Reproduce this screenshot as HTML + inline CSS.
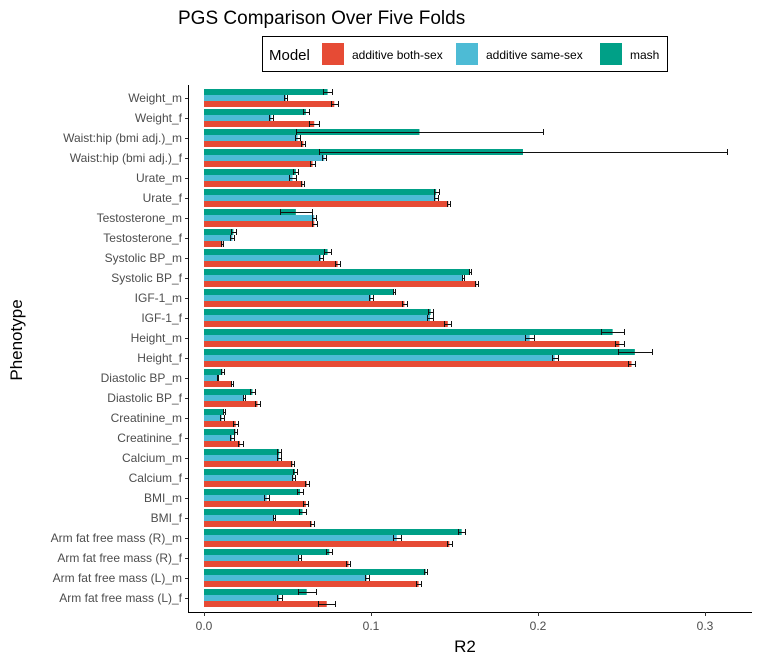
<!DOCTYPE html>
<html><head><meta charset="utf-8"><style>
body{margin:0;background:#fff;font-family:"Liberation Sans",Arial,sans-serif}
svg text{font-family:"Liberation Sans",Arial,sans-serif}
</style></head><body>
<svg id="chart" width="760" height="660" xmlns="http://www.w3.org/2000/svg">
<text x="178" y="24" font-size="19" fill="#000">PGS Comparison Over Five Folds</text>
<g>
<rect x="262.5" y="36.5" width="405" height="35" fill="#fff" stroke="#000" stroke-width="1"/>
<text x="269" y="60" font-size="15" fill="#000">Model</text>
<g><rect x="322" y="43" width="22" height="22" fill="#E64B35"/><text x="352" y="59" font-size="12" fill="#000">additive both-sex</text></g>
<g><rect x="456" y="43" width="22" height="22" fill="#4DBBD5"/><text x="486" y="59" font-size="12" fill="#000">additive same-sex</text></g>
<g><rect x="600" y="43" width="22" height="22" fill="#00A087"/><text x="630" y="59" font-size="12" fill="#000">mash</text></g>
</g>
<g id="plot"></g>
<text x="465" y="652" font-size="17" text-anchor="middle" fill="#000">R2</text>
<text transform="translate(22,340) rotate(-90)" font-size="17" text-anchor="middle" fill="#000">Phenotype</text>
</svg>
<script>
const categories=["Weight_m","Weight_f","Waist:hip (bmi adj.)_m","Waist:hip (bmi adj.)_f","Urate_m","Urate_f","Testosterone_m","Testosterone_f","Systolic BP_m","Systolic BP_f","IGF-1_m","IGF-1_f","Height_m","Height_f","Diastolic BP_m","Diastolic BP_f","Creatinine_m","Creatinine_f","Calcium_m","Calcium_f","BMI_m","BMI_f","Arm fat free mass (R)_m","Arm fat free mass (R)_f","Arm fat free mass (L)_m","Arm fat free mass (L)_f"];
const mashVals=[0.074,0.061,0.129,0.191,0.055,0.139,0.055,0.0176,0.074,0.1593,0.1138,0.1357,0.2447,0.258,0.011,0.029,0.012,0.0188,0.045,0.0545,0.0575,0.059,0.1543,0.075,0.1327,0.0615];
const mashErr=[0.0027,0.002,0.074,0.122,0.0015,0.0015,0.0095,0.0015,0.002,0.0008,0.0008,0.0015,0.007,0.01,0.001,0.0015,0.0008,0.0008,0.001,0.0013,0.0018,0.002,0.0022,0.0018,0.001,0.0055];
const sameVals=[0.049,0.0403,0.056,0.072,0.053,0.1387,0.066,0.017,0.070,0.155,0.100,0.1353,0.195,0.210,0.008,0.024,0.0106,0.0168,0.045,0.0535,0.0375,0.042,0.1154,0.057,0.0974,0.045];
const sameErr=[0.0008,0.0013,0.0013,0.0012,0.002,0.0012,0.0013,0.0012,0.0012,0.0008,0.0012,0.002,0.0025,0.0018,0.0005,0.0008,0.0012,0.0012,0.0012,0.0008,0.0015,0.0006,0.0025,0.0008,0.0012,0.0015];
const bothVals=[0.078,0.066,0.0595,0.065,0.059,0.1463,0.066,0.011,0.080,0.163,0.120,0.146,0.2487,0.256,0.0166,0.032,0.019,0.0216,0.053,0.0615,0.061,0.0645,0.1469,0.0865,0.1285,0.0735];
const bothErr=[0.0022,0.003,0.0012,0.0015,0.0008,0.0008,0.0015,0.0006,0.0015,0.0008,0.0015,0.002,0.0025,0.002,0.0005,0.0015,0.0015,0.0015,0.001,0.0012,0.0015,0.0012,0.0015,0.0012,0.0015,0.005];
const xTicks=[0,0.1,0.2,0.3];
const xTickLabels=["0.0","0.1","0.2","0.3"];

const NS="http://www.w3.org/2000/svg";
const g=document.getElementById('plot');
const X0=204, PX=1670, Y0=98, STEP=20, BH=6;
const xs=v=>X0+v*PX;
const yc=i=>Y0+i*STEP;
const px=v=>Math.round(v)+0.5;
function mk(t,a){const e=document.createElementNS(NS,t);for(const k in a)e.setAttribute(k,a[k]);g.appendChild(e);return e;}
const series=[{v:mashVals,e:mashErr,c:"#00A087",o:-1,n:"mash"},{v:sameVals,e:sameErr,c:"#4DBBD5",o:0,n:"same-sex"},{v:bothVals,e:bothErr,c:"#E64B35",o:1,n:"both-sex"}];
categories.forEach((cat,i)=>{
  const lab=mk('text',{x:182,y:yc(i)+4,'font-size':12,'text-anchor':'end',fill:'#4d4d4d'});
  lab.textContent=cat;
  
  
  const t=mk('line',{x1:185,x2:188,y1:yc(i)+0.5,y2:yc(i)+0.5,stroke:'#333'});
  
  
  series.forEach(s=>{
    const top=yc(i)+s.o*BH-BH/2;
    const r=mk('rect',{x:X0,y:top,width:Math.max(0,xs(s.v[i])-X0),height:BH,fill:s.c});
    
    
    const lo=px(xs(s.v[i]-s.e[i])),hi=px(xs(s.v[i]+s.e[i])),cy=top+BH/2+0.5;
    const eb=mk('path',{d:`M${lo},${cy}H${hi}M${lo},${top}V${top+BH}M${hi},${top}V${top+BH}`,stroke:'#111',fill:'none','stroke-width':1});
    
    
  });
});
const ax=mk('path',{d:'M188.5,85V612.5H752',stroke:'#000',fill:'none','stroke-width':1});


xTicks.forEach((v,k)=>{
  const t=mk('line',{x1:px(xs(v)),x2:px(xs(v)),y1:612,y2:616,stroke:'#333'});
  
  
  const l=mk('text',{x:xs(v),y:630,'font-size':12,'text-anchor':'middle',fill:'#4d4d4d'});
  l.textContent=xTickLabels[k];
  
  
});
</script>
</body></html>
